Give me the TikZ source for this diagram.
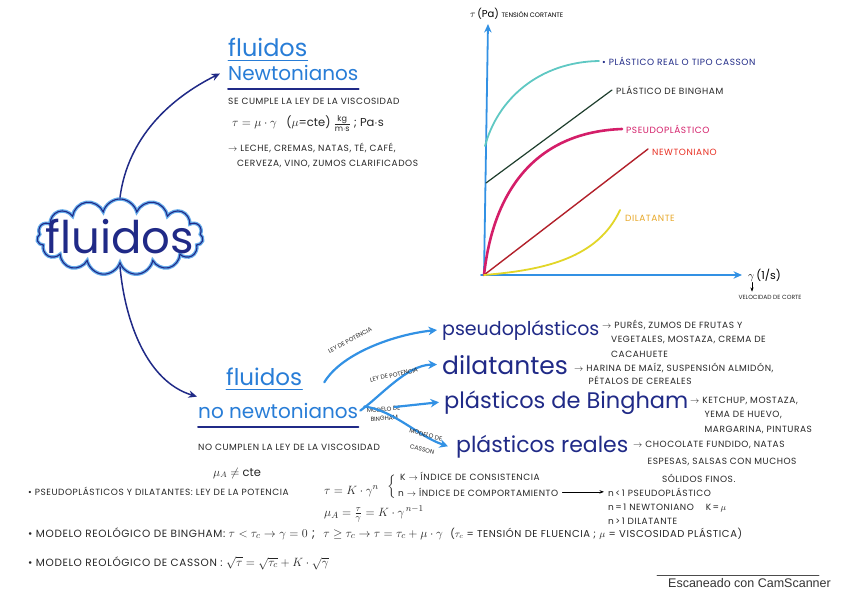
\documentclass[tikz,border=0pt]{standalone}
\usepackage{amsmath,amssymb}
\usepackage{fontspec}
\setmainfont{Poppins}
\usepackage{tikz}
\usetikzlibrary{arrows.meta,shapes.symbols}
\definecolor{inkblue}{RGB}{32,42,135}
\definecolor{penblue}{RGB}{40,125,215}
\definecolor{skyblue}{RGB}{50,145,228}
\definecolor{tealline}{RGB}{95,200,195}
\definecolor{magline}{RGB}{212,30,105}
\definecolor{redline}{RGB}{178,32,42}
\definecolor{redtext}{RGB}{232,48,35}
\definecolor{yelline}{RGB}{226,214,40}
\definecolor{orangetext}{RGB}{232,168,40}
\definecolor{greenink}{RGB}{30,62,45}

\begin{document}
\begin{tikzpicture}[x=1pt,y=-1pt,>={Stealth[length=2.4mm]},line cap=round,
  every node/.style={inner sep=0pt},
  note/.style={anchor=base west,font=\fontsize{9}{14.5}\selectfont\addfontfeatures{LetterSpace=6},text=black!85,align=left},
  rule/.style={anchor=base west,font=\fontsize{10.5}{12}\selectfont\addfontfeatures{LetterSpace=6},text=black!85},
  mini/.style={font=\fontsize{6}{9}\selectfont,text=black!85,align=center},
  head/.style={anchor=base west,text=penblue},
  kind/.style={anchor=base west,text=inkblue},
  eq/.style={anchor=base west,font=\fontsize{13}{14}\selectfont,text=black!85},
  branch/.style={->,>={Stealth[length=3mm,width=3mm]},draw=skyblue,line width=2.2pt},
  mainarrow/.style={->,>={Stealth[length=3mm,width=2.6mm]},draw=inkblue,line width=1.5pt},
  axis/.style={->,>={Stealth[length=3mm,width=2.6mm]},draw=skyblue,line width=1.8pt},
  curve/.style={line width=1.8pt}]
\useasboundingbox[fill=white] (0,0) rectangle (848,599);

\node[cloud,cloud puffs=15,cloud ignores aspect,minimum width=166pt,minimum height=76pt,
  draw=skyblue!75,line width=3.5pt,postaction={draw=inkblue,line width=1.1pt}] (fl) at (120,237) {};
\node[text=inkblue,font=\fontsize{45}{48}\selectfont] at (fl.center) {fluidos};

\node[head,font=\fontsize{24}{26}\selectfont] (nw1) at (228,57) {fluidos};
\node[head,font=\fontsize{20}{24}\selectfont] (nw2) at (228,81) {Newtonianos};
\draw[penblue,line width=1pt] ([yshift=-4pt]nw1.base west) -- ([yshift=-4pt]nw1.base east);
\draw[inkblue,line width=2pt] ([yshift=-8pt]nw2.base west) -- ([yshift=-8pt]nw2.base east);
\node[note] (law1) at (228,105) {SE CUMPLE LA LEY DE LA VISCOSIDAD};
\node[eq,font=\fontsize{11.5}{14}\selectfont] (mu1) at (232,127) {$\tau=\mu\cdot\gamma$\;\; ($\mu$=cte) $\frac{\mathrm{kg}}{\mathrm{m\cdot s}}$ ; Pa$\cdot$s};
\node[note] (ex1) at (228,166) {$\rightarrow$ LECHE, CREMAS, NATAS, TÉ, CAFÉ,\\\hspace*{1em}CERVEZA, VINO, ZUMOS CLARIFICADOS};

\node[head,font=\fontsize{23}{26}\selectfont] (nn1) at (226,385) {fluidos};
\node[head,font=\fontsize{20}{24}\selectfont] (nn2) at (198,418) {no newtonianos};
\draw[penblue,line width=1pt] ([yshift=-4pt]nn1.base west) -- ([yshift=-4pt]nn1.base east);
\draw[inkblue,line width=2pt] ([yshift=-9pt]nn2.base west) -- ([yshift=-9pt]nn2.base east);
\node[note] (law2) at (198,450) {NO CUMPLEN LA LEY DE LA VISCOSIDAD};
\node[eq,font=\fontsize{11.5}{14}\selectfont] (mu2) at (213,476) {$\mu_A\neq$ cte};

\draw[mainarrow] (fl.north) .. controls +(8,-60) and +(-50,25) .. ([xshift=-8pt]nw2.west);
\draw[mainarrow] (fl.south) .. controls +(5,55) and +(-50,-15) .. ([xshift=-1pt,yshift=6pt]nn2.north west);

\node[kind,font=\fontsize{19}{24}\selectfont] (pseudo) at (442,335) {pseudoplásticos};
\node[kind,font=\fontsize{25}{28}\selectfont] (dilat) at (442,374) {dilatantes};
\node[kind,font=\fontsize{22.5}{28}\selectfont] (bingham) at (444,408) {plásticos de Bingham};
\node[kind,font=\fontsize{22}{28}\selectfont] (reales) at (456,452) {plásticos reales};

\draw[branch] ([xshift=22pt,yshift=-6pt]nn1.east) .. controls +(18,-30) and +(-40,4) .. ([xshift=-5pt]pseudo.west);
\node[mini,rotate=28] (lp1) at (350,340) {LEY DE POTENCIA};
\draw[branch] ([xshift=2pt,yshift=-8pt]nn2.north east) .. controls +(20,-14) and +(-30,0) .. ([xshift=-5pt]dilat.west);
\node[mini,rotate=12] (lp2) at (394,375) {LEY DE POTENCIA};
\node[mini,rotate=4] (lbB) at (384,414) {MODELO DE\\BINGHAM};
\draw[branch] ([xshift=-6pt,yshift=-1pt]lbB.north east) -- ([xshift=-5pt]bingham.west);
\draw[branch] ([xshift=6pt,yshift=4pt]nn2.east) .. controls +(30,4) and +(-30,-10) .. ([xshift=-8pt]reales.west);
\node[mini,rotate=-14] (lbC) at (424,442) {MODELO DE\\[6pt]CASSON};

\node[note] (expse) at (602,357) {$\rightarrow$ PURÉS, ZUMOS DE FRUTAS Y\\\hspace*{1em}VEGETALES, MOSTAZA, CREMA DE\\\hspace*{1em}CACAHUETE};
\node[note,font=\fontsize{9}{12.5}\selectfont\addfontfeatures{LetterSpace=6}] (exdil) at (574,384) {$\rightarrow$ HARINA DE MAÍZ, SUSPENSIÓN ALMIDÓN,\\\hspace*{1.6em}PÉTALOS DE CEREALES};
\node[note] (exbin) at (690,432) {$\rightarrow$ KETCHUP, MOSTAZA,\\\hspace*{1.6em}YEMA DE HUEVO,\\\hspace*{1.6em}MARGARINA, PINTURAS};
\node[note,font=\fontsize{9}{17.5}\selectfont\addfontfeatures{LetterSpace=6}] (exrea) at (633,482) {$\rightarrow$ CHOCOLATE FUNDIDO, NATAS\\\hspace*{1.6em}ESPESAS, SALSAS CON MUCHOS\\\hspace*{3.2em}SÓLIDOS FINOS.};

\coordinate (o) at (484,275);
\coordinate (ytop) at (488,24);
\coordinate (xend) at (742,275);
\coordinate (cas0) at (485,146);
\coordinate (bin0) at (486,183);
\draw[axis] (o) -- (ytop);
\draw[axis] ([xshift=-3pt]o) -- (xend);
\node[anchor=base west,font=\fontsize{10}{12}\selectfont] (tau) at (470,18) {$\tau$\,(Pa) \fontsize{6.5}{7}\selectfont TENSIÓN CORTANTE};
\node[anchor=west,font=\fontsize{11}{12}\selectfont] (gam) at (748,275) {$\gamma$\,(1/s)};
\node[mini] (vel) at (770,297) {VELOCIDAD DE CORTE};
\draw[->,>={Stealth[length=1.5mm]},line width=0.6pt] ([xshift=4pt,yshift=-1pt]gam.south west) -- ([xshift=4pt,yshift=3pt]gam.south west |- vel.north);

\node[note,anchor=west,text=inkblue] (lcas) at (602,61) {\textbullet\ PLÁSTICO REAL O TIPO CASSON};
\node[note,anchor=west] (lbin) at (616,90) {PLÁSTICO DE BINGHAM};
\node[note,anchor=west,text=magline] (lpse) at (626,129) {PSEUDOPLÁSTICO};
\node[note,anchor=west,text=redtext] (lnew) at (652,152) {NEWTONIANO};
\node[note,anchor=west,text=orangetext] (ldil) at (625,218) {DILATANTE};

\draw[curve,tealline] (cas0) .. controls (498,98) and (540,62) .. ([xshift=-3pt]lcas.west);
\draw[curve,line width=1.2pt,greenink] (bin0) -- ([xshift=-4pt]lbin.west);
\draw[curve,line width=2.6pt,magline] (o) .. controls (494,185) and (540,132) .. ([xshift=-4pt]lpse.west);
\draw[curve,line width=1.4pt,redline] (o) -- ([xshift=-4pt,yshift=3pt]lnew.west);
\draw[curve,yelline] (o) .. controls (545,270) and (598,258) .. ([xshift=-5pt,yshift=8pt]ldil.west);

\node[note] (b1) at (28,495) {\textbullet\ PSEUDOPLÁSTICOS Y DILATANTES: LEY DE LA POTENCIA};
\node[eq] (pot) at (324,494) {$\tau=K\cdot\gamma^{n}$};
\node[eq,anchor=center] (brc) at (392,487) {$\Big\{$};
\node[note] (kidx) at (400,480) {K $\rightarrow$ ÍNDICE DE CONSISTENCIA};
\node[note] (nidx) at (398,496) {n $\rightarrow$ ÍNDICE DE COMPORTAMIENTO};
\node[note] (nlt) at (608,496) {n\,<\,1 PSEUDOPLÁSTICO};
\node[note] (neq) at (608,510) {n\,=\,1 NEWTONIANO \quad K\,=\,$\mu$};
\node[note] (ngt) at (608,524) {n\,>\,1 DILATANTE};
\draw[->,>={Stealth[length=1.6mm]},line width=0.7pt] ([xshift=4pt]nidx.east) -- ([xshift=-4pt]nlt.west);
\node[eq] (mua) at (324,516) {$\mu_A=\frac{\tau}{\gamma}=K\cdot\gamma^{\,n-1}$};
\node[rule] (b2) at (28,537) {\textbullet\ MODELO REOLÓGICO DE BINGHAM: \fontsize{12.5}{14}\selectfont$\tau<\tau_c\rightarrow\gamma=0$ ; \ $\tau\geq\tau_c\rightarrow\tau=\tau_c+\mu\cdot\gamma$\; \fontsize{10}{12}\selectfont ($\tau_c$ = TENSIÓN DE FLUENCIA ; $\mu$ = VISCOSIDAD PLÁSTICA)};
\node[rule] (b3) at (28,566) {\textbullet\ MODELO REOLÓGICO DE CASSON : \fontsize{12.5}{14}\selectfont$\sqrt{\tau}=\sqrt{\tau_c}+K\cdot\sqrt{\gamma}$};

\node[anchor=base west,font=\fontspec{Liberation Sans}\fontsize{12.5}{14}\selectfont,text=black!80] (cs) at (668,587) {Escaneado con CamScanner};
\draw[black!70,line width=0.8pt] ([xshift=-11pt,yshift=2pt]cs.north west) -- ([xshift=-12pt,yshift=2pt]cs.north east);
\end{tikzpicture}
\end{document}
